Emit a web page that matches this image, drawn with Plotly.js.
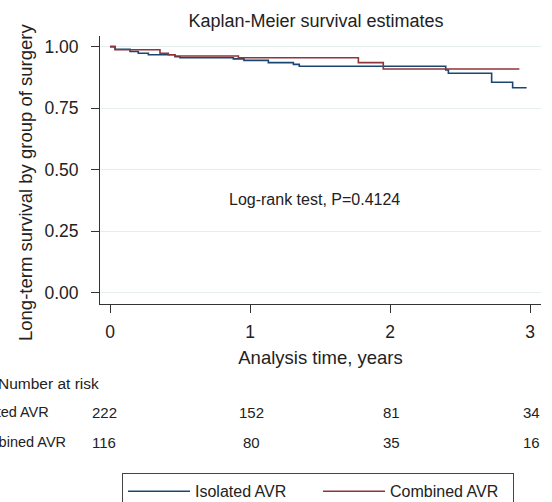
<!DOCTYPE html>
<html>
<head>
<meta charset="utf-8">
<script src="https://cdn.plot.ly/plotly-3.0.1.min.js"></script>
<style>html,body{margin:0;padding:0;background:#fff;}#chart{width:552px;height:502px;}</style>
</head>
<body>
<div id="chart"></div>
<script>
// Kaplan-Meier step data
const isolatedTime = [0, 0.036, 0.143, 0.202, 0.274, 0.464, 0.5, 0.881, 0.957, 1.131, 1.31, 1.352, 2.398, 2.417, 2.726, 2.876, 2.976];
const isolatedSurv = [1.0, 0.989, 0.980, 0.973, 0.967, 0.959, 0.955, 0.950, 0.944, 0.935, 0.928, 0.920, 0.905, 0.892, 0.855, 0.833, 0.833];
const combinedTime = [0, 0.036, 0.357, 0.417, 0.464, 0.917, 1.774, 1.952, 2.924];
const combinedSurv = [1.0, 0.987, 0.973, 0.967, 0.962, 0.955, 0.935, 0.909, 0.909];

const seriesNames = ['Isolated AVR', 'Combined AVR'];
const riskTimes = [0, 1, 2, 3];
const riskIsolated = [222, 152, 81, 34];
const riskCombined = [116, 80, 35, 16];
const yTickVals = [0, 0.25, 0.5, 0.75, 1];
const xTickVals = [0, 1, 2, 3];
const testText = 'Log-rank test, P=0.4124';

const FONT = 'Liberation Sans, Arial, Helvetica, sans-serif';
const BLUE = '#1a476f', RED = '#90353b';

// plot area geometry (pixels)
const L = 100, R = 11, T = 36, B = 198, W = 552, H = 502;
const plotH = H - T - B;
const py = p => (H - B - p) / plotH;           // pixel y -> paper y
const px = p => (p - L) / (W - L - R);          // pixel x -> paper x

const traces = [
  {x: isolatedTime, y: isolatedSurv, name: seriesNames[0], mode: 'lines', line: {shape: 'hv', color: BLUE, width: 1.6}},
  {x: combinedTime, y: combinedSurv, name: seriesNames[1], mode: 'lines', line: {shape: 'hv', color: RED, width: 1.6}}
];

const ann = [];
ann.push({xref: 'x', yref: 'y', x: 1.464, y: 0.378, text: testText, showarrow: false,
  font: {family: FONT, size: 16, color: '#222'}});
ann.push({xref: 'paper', yref: 'paper', x: px(25), y: py(183), text: 'Long-term survival by group of surgery',
  textangle: -90, showarrow: false, xanchor: 'center', yanchor: 'middle',
  font: {family: FONT, size: 18.5, color: '#222'}});
ann.push({xref: 'paper', yref: 'paper', x: px(-4), y: py(383), xanchor: 'left', yanchor: 'middle',
  text: 'Number at risk', showarrow: false, font: {family: FONT, size: 15.5, color: '#222'}});
[[seriesNames[0], riskIsolated, 412, -36.5], [seriesNames[1], riskCombined, 442, -34]].forEach(([nm, vals, rowY, lx]) => {
  ann.push({xref: 'paper', yref: 'paper', x: px(lx), y: py(rowY), xanchor: 'left', yanchor: 'middle',
    text: nm, showarrow: false, font: {family: FONT, size: 14.5, color: '#222'}});
  vals.forEach((v, i) => {
    ann.push({xref: 'x', yref: 'paper', x: riskTimes[i], y: py(rowY), xanchor: 'center', yanchor: 'middle',
      xshift: i === 0 ? -6 : 1, text: String(v), showarrow: false, font: {family: FONT, size: 15, color: '#222'}});
  });
});

const layout = {
  width: W, height: H,
  margin: {l: L, r: R, t: T, b: B, autoexpand: false},
  paper_bgcolor: '#fff', plot_bgcolor: '#fff',
  font: {family: FONT, color: '#222'},
  title: {text: 'Kaplan-Meier survival estimates', x: 316 / W, xref: 'container', xanchor: 'center',
    y: 1 - 21 / H, yref: 'container', yanchor: 'middle', font: {family: FONT, size: 18, color: '#222'}},
  xaxis: {range: [-10 / 140, 3 + 11 / 140], tickvals: xTickVals, ticks: 'outside', ticklen: 8, tickwidth: 1,
    tickcolor: '#333', showline: true, linecolor: '#333', linewidth: 1, showgrid: false, zeroline: false,
    tickfont: {family: FONT, size: 17.5, color: '#222'}, ticklabelstandoff: 4,
    title: {text: 'Analysis time, years', font: {family: FONT, size: 18.5, color: '#222'}, standoff: 10}},
  yaxis: {range: [-0.045, 1.043], tickvals: yTickVals, tickformat: '.2f', ticks: 'outside', ticklen: 8, tickwidth: 1,
    tickcolor: '#333', showline: true, linecolor: '#333', linewidth: 1, showgrid: true, gridcolor: '#e6eef0', gridwidth: 1,
    zeroline: false, tickfont: {family: FONT, size: 17.5, color: '#222'}, ticklabelstandoff: 9},
  showlegend: true,
  legend: {orientation: 'h', x: px(122), xanchor: 'left', y: py(473.3), yanchor: 'top',
    bordercolor: '#444', borderwidth: 1, font: {family: FONT, size: 16, color: '#222'},
    itemwidth: 62, entrywidth: 118, traceorder: 'normal'},
  annotations: ann
};

Plotly.newPlot('chart', traces, layout, {displayModeBar: false, staticPlot: true});
</script>
</body>
</html>
